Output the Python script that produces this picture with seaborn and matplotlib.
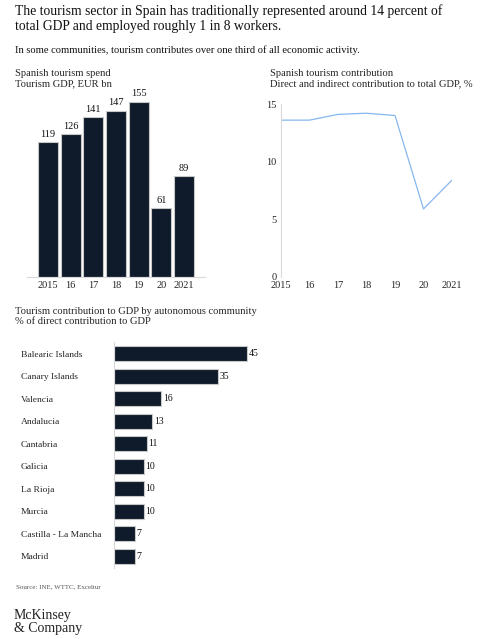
import matplotlib
matplotlib.use("Agg")
import matplotlib.pyplot as plt
import seaborn as sns

# ---- DATA ----
years = ["2015", "16", "17", "18", "19", "20", "2021"]
tourism_spend = [119, 126, 141, 147, 155, 61, 89]
gdp_share = [13.6, 13.6, 14.1, 14.2, 14.0, 5.9, 8.4]
communities = ["Balearic Islands", "Canary Islands", "Valencia", "Andalucia", "Cantabria",
               "Galicia", "La Rioja", "Murcia", "Castilla - La Mancha", "Madrid"]
community_share = [45, 35, 16, 13, 11, 10, 10, 10, 7, 7]

navy = "#0f1b2b"
edge = "#c8c8c8"
axis_grey = "#d9d9d9"
line_blue = "#86b7ef"

sns.set_style("white")
plt.rcParams["font.family"] = ["Liberation Serif", "DejaVu Serif"]

W, H = 482, 639
fig = plt.figure(figsize=(W / 100, H / 100), dpi=100)


def box(left, top, right, bottom):
    # pixel box -> figure fraction
    return [left / W, 1 - bottom / H, (right - left) / W, (bottom - top) / H]


# ---- Texts ----
fig.text(15 / W, 1 - 4 / H, "The tourism sector in Spain has traditionally represented around 14 percent of\n"
         "total GDP and employed roughly 1 in 8 workers.", ha="left", va="top", fontsize=9.8,
         color="#111111", linespacing=1.2)
fig.text(15 / W, 1 - 45 / H, "In some communities, tourism contributes over one third of all economic activity.",
         ha="left", va="top", fontsize=7.6, color="#111111")

# ---- Bar chart: tourism spend ----
ax1 = fig.add_axes(box(27, 96, 205, 277))
sns.barplot(x=years, y=tourism_spend, color=navy, saturation=1, width=0.88,
            edgecolor=edge, linewidth=0.8, ax=ax1)
ax1.set_ylim(0, 160)
ax1.set_xlim(-0.93, 6.93)
for i, v in enumerate(tourism_spend):
    ax1.text(i, v + 3, str(v), ha="center", va="bottom", fontsize=7.5, color="#111111")
ax1.set_yticks([])
ax1.set_xlabel("")
ax1.set_ylabel("")
for s in ["top", "right", "left"]:
    ax1.spines[s].set_visible(False)
ax1.spines["bottom"].set_color(axis_grey)
ax1.tick_params(axis="x", length=0, labelsize=7.5, pad=3)
fig.text(15 / W, 1 - 69 / H, "Spanish tourism spend\nTourism GDP, EUR bn", ha="left", va="top",
         fontsize=7.6, linespacing=1.2)

# ---- Line chart: GDP contribution ----
ax2 = fig.add_axes(box(281, 104, 452, 277))
sns.lineplot(x=list(range(len(years))), y=gdp_share, color=line_blue, linewidth=0.9, ax=ax2)
ax2.set_ylim(0, 15)
ax2.set_xlim(0, 6)
ax2.set_yticks([0, 5, 10, 15])
ax2.set_xticks(range(len(years)))
ax2.set_xticklabels(years)
for s in ["top", "right", "bottom"]:
    ax2.spines[s].set_visible(False)
ax2.spines["left"].set_color(axis_grey)
ax2.tick_params(axis="both", length=0, labelsize=7.5)
ax2.tick_params(axis="y", pad=3)
ax2.tick_params(axis="x", pad=3)
fig.text(270 / W, 1 - 69 / H, "Spanish tourism contribution\nDirect and indirect contribution to total GDP, %",
         ha="left", va="top", fontsize=7.6, linespacing=1.2)

# ---- Horizontal bars: communities ----
ax3 = fig.add_axes(box(114, 342, 262, 568))
sns.barplot(x=community_share, y=communities, orient="h", color=navy, saturation=1, width=0.66,
            edgecolor=edge, linewidth=0.8, ax=ax3)
ax3.set_xlim(0, 50)
ax3.set_ylim(len(communities) - 0.47, -0.53)
for i, v in enumerate(community_share):
    ax3.text(v + 0.6, i, str(v), ha="left", va="center", fontsize=7, color="#111111")
ax3.set_xticks([])
ax3.set_xlabel("")
ax3.set_ylabel("")
for s in ["top", "right", "bottom"]:
    ax3.spines[s].set_visible(False)
ax3.spines["left"].set_color(axis_grey)
ax3.tick_params(axis="y", length=0, labelsize=6.8, pad=67)
for lab in ax3.get_yticklabels():
    lab.set_ha("left")
fig.text(15 / W, 1 - 307 / H, "Tourism contribution to GDP by autonomous community\n% of direct contribution to GDP",
         ha="left", va="top", fontsize=7.6, linespacing=1.2)

# ---- Footer ----
fig.text(16 / W, 1 - 587 / H, "Source: INE, WTTC, Exceltur", ha="left", va="center", fontsize=5.0,
         color="#555555")
fig.text(14 / W, 1 - 622 / H, "McKinsey\n& Company", ha="left", va="center", fontsize=10,
         color="#222222", linespacing=1.0)

fig.savefig("out.png", dpi=100)
